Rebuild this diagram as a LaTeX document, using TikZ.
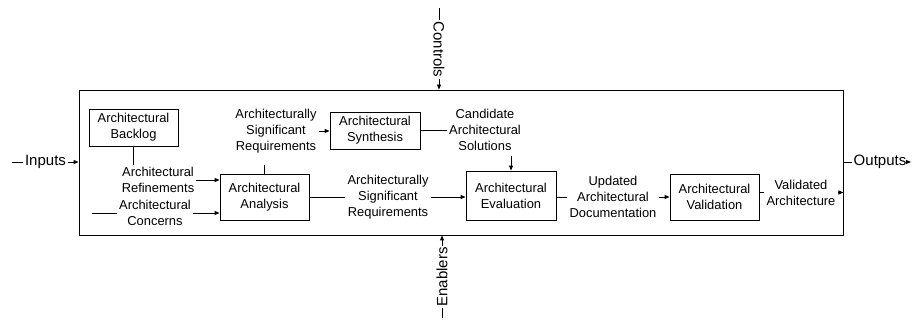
\documentclass[tikz,border=0pt]{standalone}
\usepackage{fontspec}
\setmainfont{Liberation Sans}
\usetikzlibrary{arrows.meta}

\tikzset{
  proc/.style={draw, line width=0.9pt, align=center, inner sep=0pt,
    font=\fontsize{12.9}{16}\selectfont},
  flow/.style={align=center, inner sep=2pt,
    font=\fontsize{12.9}{16}\selectfont},
  edge/.style={inner sep=1.5pt, font=\fontsize{15}{18}\selectfont},
  wire/.style={line width=0.9pt},
  feed/.style={line width=0.9pt, -{Triangle[length=5pt,width=4pt]}},
}

\begin{document}
\begin{tikzpicture}[x=1pt, y=-1pt]
\useasboundingbox (0,0) rectangle (912,320);

% activity frame
\node[draw, line width=0.9pt, minimum width=764pt, minimum height=145pt,
      inner sep=0pt] (act) at (461,162.5) {};

% process boxes
\node[proc, minimum width=89pt, minimum height=37pt] (backlog) at (133.5,127.5)
  {Architectural\\Backlog};
\node[proc, minimum width=89pt, minimum height=46pt] (analysis) at (264.5,197)
  {Architectural\\Analysis};
\node[proc, minimum width=90pt, minimum height=37pt] (synthesis) at (375,130.5)
  {Architectural\\Synthesis};
\node[proc, minimum width=90pt, minimum height=49pt] (evaluation) at (511,195.5)
  {Architectural\\Evaluation};
\node[proc, minimum width=89pt, minimum height=46pt] (validation) at (714.5,197)
  {Architectural\\Validation};

% flow labels
\node[flow] (refine) at (158,180) {Architectural\\Refinements};
\node[flow] (concern) at (155,213) {Architectural\\Concerns};
\node[flow] (asrtop) at (276,131) {Architecturally\\Significant\\Requirements};
\node[flow] (asrlow) at (388,197) {Architecturally\\Significant\\Requirements};
\node[flow] (candidate) at (485,130) {Candidate\\Architectural\\Solutions};
\node[flow] (updated) at (613,197) {Updated\\Architectural\\Documentation};
\node[flow] (validated) at (801,192.5) {Validated\\Architecture};

% boundary labels
\node[edge] (inputs) at (45.5,162) {Inputs};
\node[edge] (outputs) at (880,162) {Outputs};
\node[edge, rotate=-90] (controls) at (439,49.5) {Controls};
\node[edge, rotate=90] (enablers) at (442,277) {Enablers};

\coordinate (instart) at (12,162);
\coordinate (outend) at (911,162);
\coordinate (ctrltop) at (439,8);
\coordinate (enabot) at (442,318);
\coordinate (concstart) at (92,213);

% boundary arrows
\draw[wire] (instart) -- (inputs.west);
\draw[feed] (inputs.east) -- (inputs.east -| act.west);
\draw[wire] (outputs.west -| act.east) -- (outputs.west);
\draw[feed] (outputs.east) -- (outend);
\draw[wire] (ctrltop) -- (controls.west);
\draw[feed] (controls.east) -- (controls.east |- act.north);
\draw[wire] (enabot) -- (enablers.west);
\draw[feed] (enablers.east) -- (enablers.east |- act.south);

% internal flows
\draw[wire] (backlog.south) -- (backlog.south |- refine.north);
\draw[feed] (refine.east) -- (refine.east -| analysis.west);
\draw[wire] (concstart) -- (concern.west);
\draw[feed] (concern.east) -- (concern.east -| analysis.west);
\draw[wire] (analysis.north) -- ++(0,-9);
\draw[feed] (asrtop.east) -- (asrtop.east -| synthesis.west);
\draw[wire] (synthesis.east) -- (synthesis.east -| candidate.west);
\draw[feed] (candidate.south -| evaluation.north) ++(0,3) -- (evaluation.north);
\draw[wire] (analysis.east) -- (analysis.east -| asrlow.west);
\draw[feed] (asrlow.east) -- (asrlow.east -| evaluation.west);
\draw[wire] (updated.west -| evaluation.east) -- (updated.west);
\draw[feed] (updated.east) -- (updated.east -| validation.west);
\draw[wire] (validated.west -| validation.east) -- (validated.west);
\draw[feed] (validated.east) -- (validated.east -| act.east);
\end{tikzpicture}
\end{document}
